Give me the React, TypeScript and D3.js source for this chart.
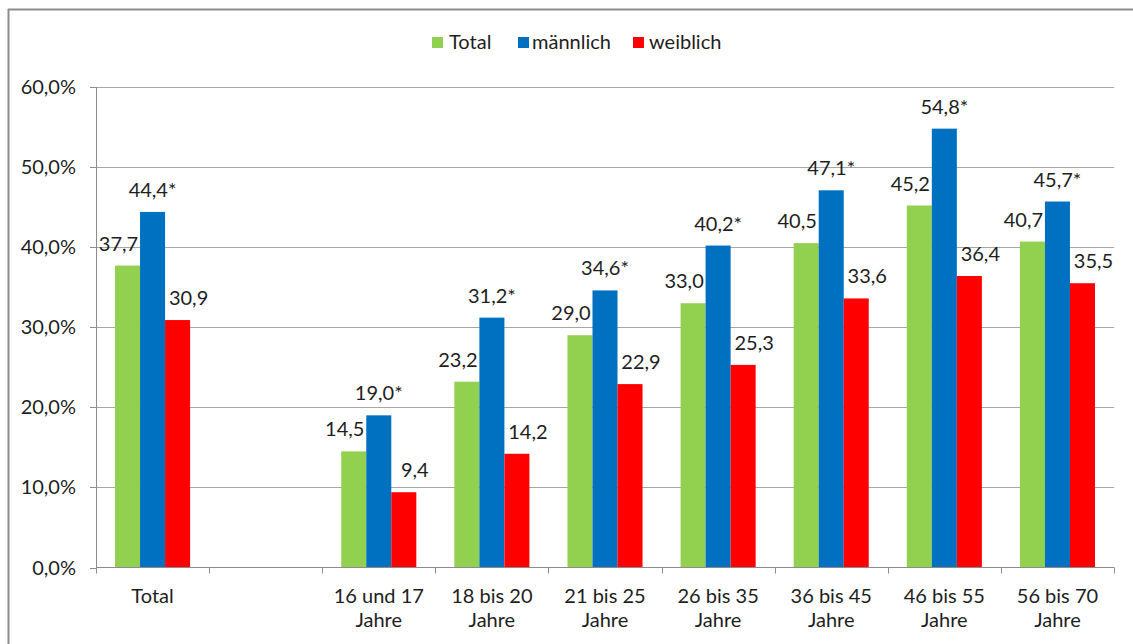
import React from "react";
import * as d3 from "d3";

// Altersgruppen (leerer Slot trennt "Total" von den Gruppen)
const categories: string[] = [
  "Total",
  "",
  "16 und 17|Jahre",
  "18 bis 20|Jahre",
  "21 bis 25|Jahre",
  "26 bis 35|Jahre",
  "36 bis 45|Jahre",
  "46 bis 55|Jahre",
  "56 bis 70|Jahre",
];

const seriesNames: string[] = ["Total", "männlich", "weiblich"];
const seriesColors: string[] = ["#92D050", "#0070C0", "#FF0000"];

const totalValues: (number | null)[] = [37.7, null, 14.5, 23.2, 29.0, 33.0, 40.5, 45.2, 40.7];
const maleValues: (number | null)[] = [44.4, null, 19.0, 31.2, 34.6, 40.2, 47.1, 54.8, 45.7];
const femaleValues: (number | null)[] = [30.9, null, 9.4, 14.2, 22.9, 25.3, 33.6, 36.4, 35.5];

// Signifikanzmarkierung je Serie
const seriesStar: boolean[] = [false, true, false];

const yTicks: number[] = [0, 10, 20, 30, 40, 50, 60];

const W = 1133;
const H = 644;
const FONT = "Lato, 'Open Sans', sans-serif";
const TEXT = "#1e1e1e";
const FS = 20;

export default function App() {
  const left = 96;
  const right = 1114;
  const top = 87;
  const bottom = 567.5;

  const x = d3
    .scaleBand<string>()
    .domain(categories.map((_, i) => String(i)))
    .range([left, right])
    .paddingInner(0)
    .paddingOuter(0);

  const inner = d3
    .scaleBand<string>()
    .domain(seriesNames)
    .range([0, x.bandwidth()])
    .paddingInner(0)
    .paddingOuter(0.76);

  const y = d3.scaleLinear().domain([0, 60]).range([bottom, top]);

  const allSeries = [totalValues, maleValues, femaleValues];
  const labelShift = [-9, 0, 11];

  const fmt = (v: number) => v.toFixed(1).replace(".", ",");
  const fmtPct = (v: number) => v.toFixed(1).replace(".", ",") + "%";

  // Legende
  const legendItems = [
    { x: 432, textX: 449 },
    { x: 518, textX: 532 },
    { x: 633, textX: 649 },
  ];

  return (
    <svg
      width={W}
      height={H}
      style={{ position: "absolute", left: 0, top: 0, background: "#fff" }}
      fontFamily={FONT}
    >
      {/* Rahmen */}
      <line x1={8} x2={W} y1={9.5} y2={9.5} stroke="#8c8c8c" strokeWidth={2} />
      <line x1={8.5} x2={8.5} y1={9} y2={H} stroke="#8c8c8c" strokeWidth={2} />

      {/* Gitterlinien */}
      {yTicks
        .filter((t) => t > 0)
        .map((t) => (
          <line
            key={"g" + t}
            x1={left}
            x2={right}
            y1={Math.round(y(t)) + 0.5}
            y2={Math.round(y(t)) + 0.5}
            stroke="#a6a6a6"
            strokeWidth={1}
          />
        ))}

      {/* Balken */}
      {allSeries.map((vals, si) =>
        vals.map((v, ci) =>
          v == null ? null : (
            <rect
              key={`b${si}-${ci}`}
              x={(x(String(ci)) as number) + (inner(seriesNames[si]) as number)}
              y={y(v)}
              width={inner.bandwidth()}
              height={bottom - y(v)}
              fill={seriesColors[si]}
            />
          )
        )
      )}

      {/* Datenbeschriftungen */}
      {allSeries.map((vals, si) =>
        vals.map((v, ci) =>
          v == null ? null : (
            <text
              key={`l${si}-${ci}`}
              x={
                (x(String(ci)) as number) +
                (inner(seriesNames[si]) as number) +
                inner.bandwidth() / 2 +
                labelShift[si]
              }
              y={y(v) - 15}
              textAnchor="middle"
              fontSize={FS}
              fill={TEXT}
            >
              {fmt(v) + (seriesStar[si] ? "*" : "")}
            </text>
          )
        )
      )}

      {/* Achsen */}
      <line x1={left + 0.5} x2={left + 0.5} y1={top} y2={bottom} stroke="#8c8c8c" />
      <line x1={left} x2={right} y1={bottom} y2={bottom} stroke="#8c8c8c" />
      {yTicks.map((t) => (
        <g key={"yt" + t}>
          <line
            x1={left - 6}
            x2={left}
            y1={Math.round(y(t)) + 0.5}
            y2={Math.round(y(t)) + 0.5}
            stroke="#8c8c8c"
          />
          <text
            x={76}
            y={y(t) + 7}
            textAnchor="end"
            fontSize={FS}
            fill={TEXT}
          >
            {fmtPct(t)}
          </text>
        </g>
      ))}
      {d3.range(categories.length + 1).map((i) => {
        const xx = Math.round(left + i * x.step()) + 0.5;
        return (
          <line key={"xt" + i} x1={xx} x2={xx} y1={bottom} y2={bottom + 6} stroke="#8c8c8c" />
        );
      })}
      {categories.map((c, i) => {
        const cx = (x(String(i)) as number) + x.bandwidth() / 2;
        return (
          <text key={"cl" + i} x={cx} y={603} textAnchor="middle" fontSize={FS} fill={TEXT}>
            {c.split("|").map((line, k) => (
              <tspan key={k} x={cx} dy={k === 0 ? 0 : 24}>
                {line}
              </tspan>
            ))}
          </text>
        );
      })}

      {/* Legende */}
      {seriesNames.map((n, i) => (
        <g key={"lg" + i}>
          <rect x={legendItems[i].x} y={37} width={11} height={11} fill={seriesColors[i]} />
          <text x={legendItems[i].textX} y={49} fontSize={FS} fill={TEXT}>
            {n}
          </text>
        </g>
      ))}
    </svg>
  );
}
